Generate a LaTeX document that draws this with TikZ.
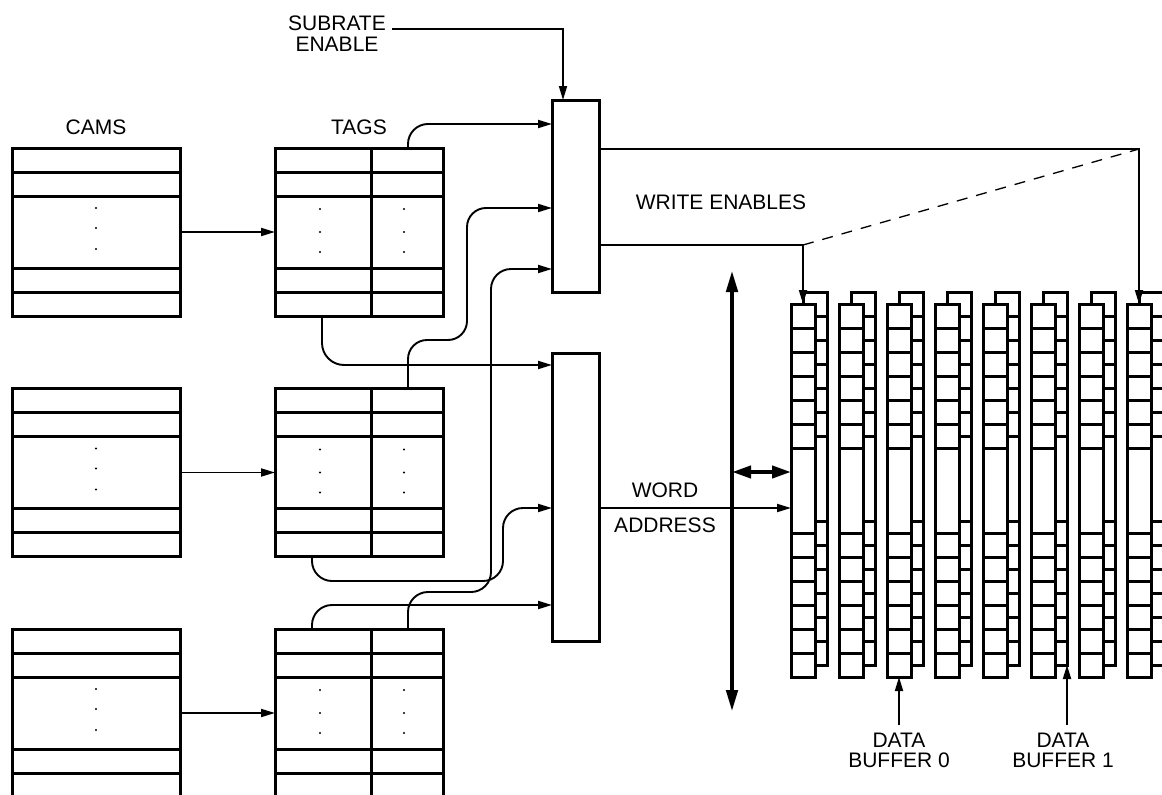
\documentclass[tikz,border=0pt]{standalone}
\usepackage{fontspec}
\newfontfamily\labfont{Liberation Sans}
\usetikzlibrary{arrows.meta,calc}
\begin{document}
\begin{tikzpicture}[x=1pt,y=-1pt,
  box/.style={draw,line width=3pt,rectangle,inner sep=0pt,outer sep=0pt,anchor=north west},
  tbl/.style={box,minimum width=168pt,minimum height=168pt},
  logic/.style={box,minimum width=47pt},
  buf/.style={box,fill=white,minimum width=24pt,minimum height=373pt},
  div/.style={line width=3pt},
  conn/.style={line width=1.9pt},
  arr/.style={-{Triangle[length=14pt,width=8pt]}},
  bus/.style={line width=4.5pt,{Triangle[length=22pt,width=11pt]}-{Triangle[length=22pt,width=11pt]}},
  hbus/.style={line width=4pt,{Triangle[length=19pt,width=12pt]}-{Triangle[length=19pt,width=12pt]}},
  lbl/.style={font=\labfont\fontsize{21pt}{22pt}\selectfont,inner sep=0pt,text height=15pt,text depth=0pt},
  dot/.style={fill=black,circle,inner sep=0pt,minimum size=2.4pt}
]
\useasboundingbox (0,0) rectangle (1162,795);
\clip (0,0) rectangle (1162,795);

% labels
\node[lbl] (camsl) at (96,127) {CAMS};
\node[lbl] (tagsl) at (359,127) {TAGS};
\node[lbl] (subA) at (337,22.5) {SUBRATE};
\node[lbl] (subB) at (337,44) {ENABLE};
\node[lbl] (wel) at (721,202) {WRITE ENABLES};
\node[lbl] (wordl) at (665,490) {WORD};
\node[lbl] (addrl) at (665,525) {ADDRESS};
\node[lbl] (dA0) at (899,740) {DATA};
\node[lbl] (dB0) at (899,760) {BUFFER 0};
\node[lbl] (dA1) at (1063,740) {DATA};
\node[lbl] (dB1) at (1063,760) {BUFFER 1};

% CAMS and TAGS tables
\foreach \i/\y in {1/148,2/388.5,3/629}{
  \node[tbl] (cam\i) at (12,\y) {};
  \node[tbl] (tag\i) at (275,\y) {};
  \foreach \d in {24,48,120,144}{
    \draw[div] ($(cam\i.north west)+(0,\d)$) -- ($(cam\i.north east)+(0,\d)$);
    \draw[div] ($(tag\i.north west)+(0,\d)$) -- ($(tag\i.north east)+(0,\d)$);
  }
  \draw[div] ($(tag\i.north west)+(96,0)$) -- ($(tag\i.south west)+(96,0)$);
  \foreach \d in {60,80,101}
    \node[dot] at ($(cam\i.north west)+(84,\d)$) {};
  \foreach \d in {61,84,104}{
    \node[dot] at ($(tag\i.north west)+(45,\d)$) {};
    \node[dot] at ($(tag\i.north west)+(129,\d)$) {};
  }
  \draw[conn,arr] (cam\i.east) -- (tag\i.west);
}

% logic blocks
\node[logic,minimum height=192pt] (we) at (552,100) {};
\node[logic,minimum height=288pt] (wa) at (552,353) {};

% data buffers
\foreach \k in {0,...,7}{
  \pgfmathsetmacro\xa{791+48*\k}
  \node[buf] (bk\k) at (\xa+12,292) {};
  \foreach \d in {24,48,...,144}{
    \draw[div] ($(bk\k.north west)+(0,\d)$) -- ($(bk\k.north east)+(0,\d)$);
    \draw[div] ($(bk\k.south west)+(0,-\d)$) -- ($(bk\k.south east)+(0,-\d)$);
  }
  \node[buf] (buf\k) at (\xa,304) {};
  \foreach \d in {24,48,...,144}{
    \draw[div] ($(buf\k.north west)+(0,\d)$) -- ($(buf\k.north east)+(0,\d)$);
    \draw[div] ($(buf\k.south west)+(0,-\d)$) -- ($(buf\k.south east)+(0,-\d)$);
  }
}

% subrate enable
\draw[conn,arr] ([xshift=6pt,yshift=1pt]subA.south east) -| ([xshift=11pt]we.north west);

% tag connectors
\draw[conn,arr,rounded corners=20pt] ($(tag1.north west)+(133,0)$) |- (we.west |- 0,124);
\draw[conn,arr,rounded corners=22pt] ($(tag1.south west)+(47,0)$) |- (wa.west |- 0,365);
\draw[conn,arr,rounded corners=19pt] ($(tag2.north west)+(133,0)$) |- (467,340) |- (we.west |- 0,208);
\draw[conn,arr,rounded corners=20pt] ($(tag2.south west)+(37,0)$) |- (503,581) |- (wa.west |- 0,508);
\draw[conn,arr,rounded corners=20pt] ($(tag3.north west)+(133,0)$) |- (491,592) |- (we.west |- 0,269);
\draw[conn,arr,rounded corners=20pt] ($(tag3.north west)+(37,0)$) |- (wa.west |- 0,605);

% write enables
\draw[conn,arr] (we.east |- 0,149) -| (buf7.north);
\draw[conn,arr] (we.east |- 0,245) -| (buf0.north);
\draw[line width=1.3pt,dash pattern=on 11pt off 9pt] (buf0.north |- 0,245) -- (buf7.north |- 0,149);

% word address
\draw[conn,arr] (wa.east |- 0,508) -- (buf0.west |- 0,508);

% bus
\coordinate (busT) at (732,270);
\coordinate (busB) at (732,712);
\draw[bus] (busT) -- (busB);
\draw[hbus] (busT |- 0,472) -- (buf0.west |- 0,472);

% data buffer pointers
\draw[conn,arr] ([yshift=7pt]dA0.north) -- (buf2.south);
\draw[conn,arr] (bk5.south east |- 0,725) -- (bk5.south east);
\end{tikzpicture}
\end{document}
